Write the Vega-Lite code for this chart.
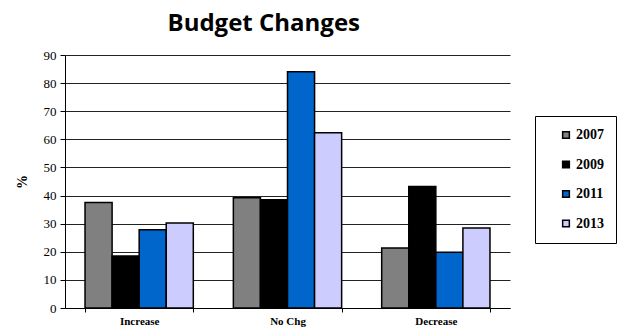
{
  "$schema": "https://vega.github.io/schema/vega-lite/v6.json",
  "autosize": "none",
  "width": 445,
  "height": 253,
  "padding": {"left": 65, "top": 55, "right": 116, "bottom": 23},
  "background": "white",
  "title": {
    "text": "Budget Changes",
    "font": "Open Sans",
    "fontSize": 24,
    "fontWeight": "bold",
    "color": "#000000",
    "anchor": "middle",
    "frame": "bounds",
    "dx": -52,
    "offset": 13
  },
  "data": {
    "values": [
      {"cat": "Increase", "year": "2007", "pct": 37.5},
      {"cat": "Increase", "year": "2009", "pct": 18.5},
      {"cat": "Increase", "year": "2011", "pct": 27.8},
      {"cat": "Increase", "year": "2013", "pct": 30.2},
      {"cat": "No Chg", "year": "2007", "pct": 39.2},
      {"cat": "No Chg", "year": "2009", "pct": 38.5},
      {"cat": "No Chg", "year": "2011", "pct": 84.0},
      {"cat": "No Chg", "year": "2013", "pct": 62.3},
      {"cat": "Decrease", "year": "2007", "pct": 21.3},
      {"cat": "Decrease", "year": "2009", "pct": 43.2},
      {"cat": "Decrease", "year": "2011", "pct": 19.8},
      {"cat": "Decrease", "year": "2013", "pct": 28.5}
    ]
  },
  "mark": {"type": "bar", "stroke": "#000000", "strokeWidth": 1.5},
  "encoding": {
    "x": {
      "field": "cat",
      "type": "nominal",
      "sort": ["Increase", "No Chg", "Decrease"],
      "scale": {"paddingInner": 0.27, "paddingOuter": 0.135},
      "axis": {
        "title": null,
        "labelAngle": 0,
        "labelFont": "Liberation Serif",
        "labelFontWeight": "bold",
        "labelFontSize": 11,
        "labelColor": "#000000",
        "labelPadding": 3,
        "tickBand": "extent",
        "tickColor": "#000000",
        "tickSize": 4,
        "domainColor": "#000000",
        "domainWidth": 1
      }
    },
    "xOffset": {"field": "year", "type": "nominal", "scale": {"paddingInner": 0, "paddingOuter": 0}},
    "y": {
      "field": "pct",
      "type": "quantitative",
      "scale": {"domain": [0, 90]},
      "axis": {
        "title": "%",
        "titleFont": "Liberation Serif",
        "titleFontWeight": "bold",
        "titleFontSize": 14,
        "titleColor": "#000000",
        "titlePadding": 14,
        "values": [0, 10, 20, 30, 40, 50, 60, 70, 80, 90],
        "labelFont": "Liberation Serif",
        "labelFontSize": 13,
        "labelColor": "#000000",
        "labelPadding": 4,
        "tickColor": "#000000",
        "tickSize": 5,
        "domainColor": "#000000",
        "grid": true,
        "gridColor": "#222222",
        "gridWidth": 1
      }
    },
    "color": {
      "field": "year",
      "type": "nominal",
      "scale": {"domain": ["2007", "2009", "2011", "2013"], "range": ["#808080", "#000000", "#0066CC", "#CCCCFF"]},
      "legend": {
        "title": null,
        "orient": "none",
        "legendX": 470,
        "legendY": 61,
        "symbolType": "square",
        "symbolSize": 45,
        "symbolStrokeColor": "#000000",
        "symbolStrokeWidth": 1.5,
        "symbolOffset": 12,
        "labelFont": "Liberation Serif",
        "labelFontWeight": "bold",
        "labelFontSize": 14,
        "labelColor": "#000000",
        "labelOffset": 3,
        "rowPadding": 15.5,
        "strokeColor": "#000000",
        "fillColor": "white",
        "padding": 12,
        "offset": 0
      }
    }
  },
  "config": {"view": {"stroke": null}, "axis": {"labelFontWeight": "normal"}}
}
